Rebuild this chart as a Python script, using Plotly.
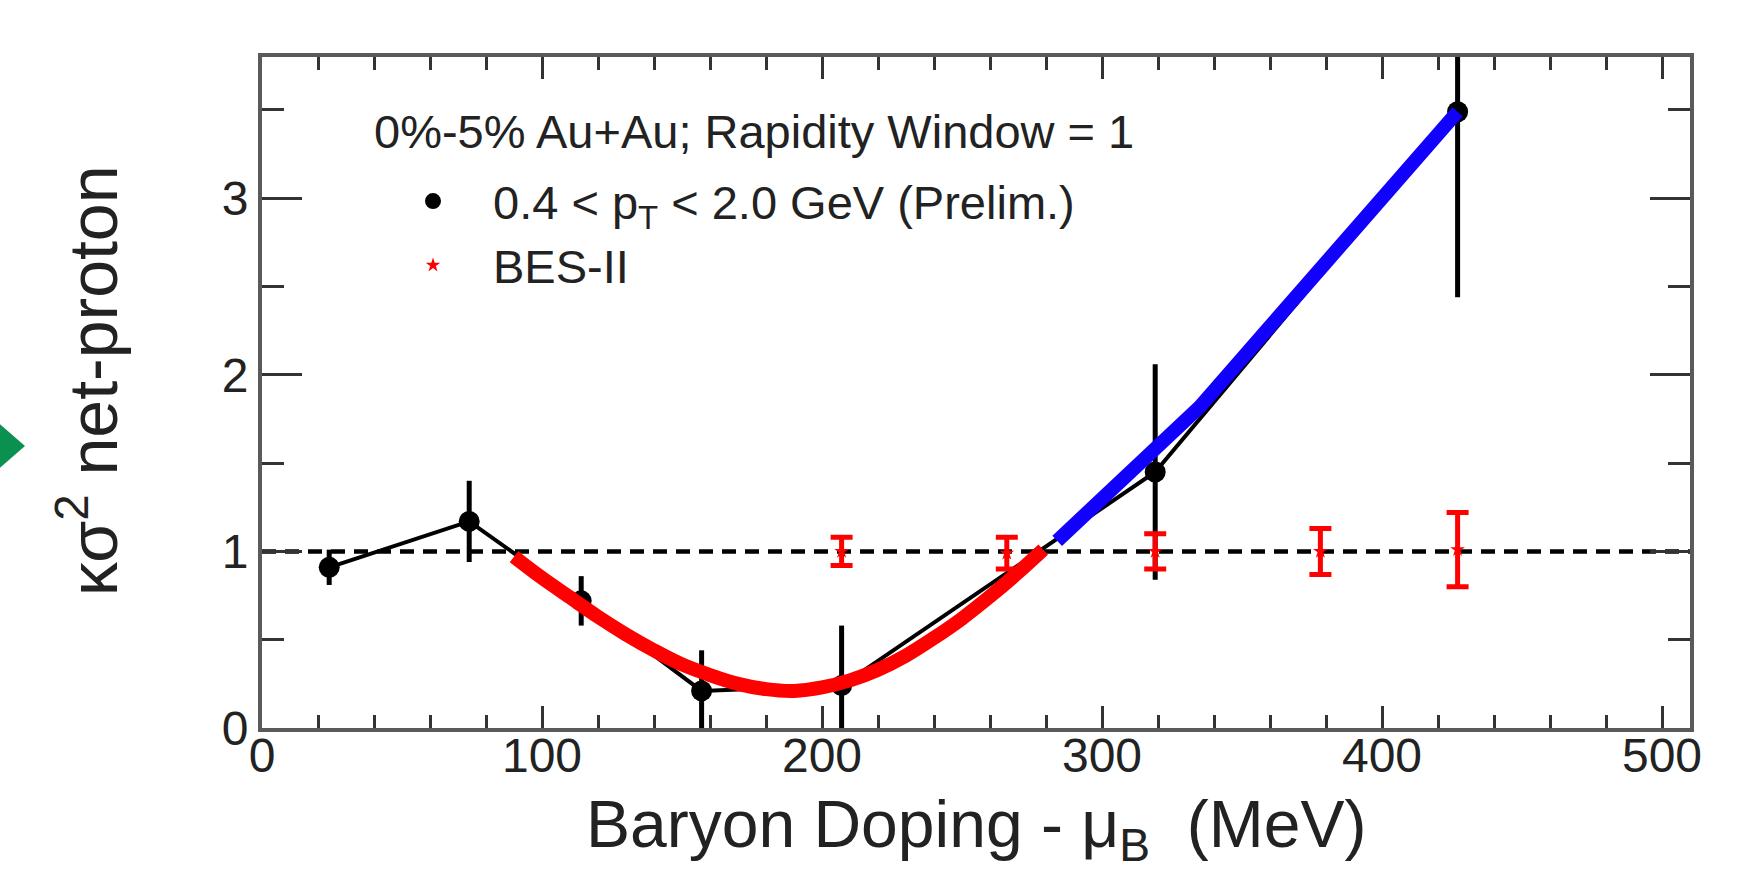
import plotly.graph_objects as go

# ---------------- data ----------------
# STAR preliminary net-proton kappa*sigma^2, 0.4 < pT < 2.0 GeV
black_x = [24, 74, 114, 157, 207, 319, 427]
black_y = [0.91, 1.17, 0.72, 0.21, 0.24, 1.45, 3.49]
black_err = [0.10, 0.23, 0.14, 0.23, 0.34, 0.61, 1.05]

# BES-II projected points
bes_x = [207, 266, 319, 378, 427]
bes_y = [1.00, 0.99, 1.00, 1.00, 1.01]
bes_err = [0.08, 0.09, 0.10, 0.13, 0.21]

# red (dip) curve
red_x = [90, 100, 110, 120, 130, 140, 150, 160, 170, 180, 190, 200,
         210, 220, 230, 240, 250, 260, 270, 279]
red_y = [0.97, 0.85, 0.74, 0.63, 0.53, 0.44, 0.36, 0.30, 0.25, 0.22, 0.21,
         0.23, 0.27, 0.33, 0.41, 0.51, 0.62, 0.745, 0.88, 1.01]

# blue (rise) line
blue_x = [284, 335, 427]
blue_y = [1.06, 1.82, 3.49]

x_range = [0, 510]
y_range = [0, 3.8]

FONT = "Liberation Sans, Arial, Helvetica, sans-serif"
TXT = "#222222"

fig = go.Figure()

# STAR data: connecting line
fig.add_trace(go.Scatter(
    x=black_x, y=black_y, mode="lines", showlegend=False,
    line=dict(color="black", width=4), hoverinfo="skip",
))
# STAR data: points + error bars
fig.add_trace(go.Scatter(
    x=black_x, y=black_y, mode="markers",
    name="0.4 &lt; p<sub>T</sub> &lt; 2.0 GeV (Prelim.)",
    marker=dict(color="black", size=21, symbol="circle"),
    error_y=dict(type="data", array=black_err, visible=True,
                 color="black", thickness=5, width=0),
))

# BES-II
fig.add_trace(go.Scatter(
    x=bes_x, y=bes_y, mode="markers", name="BES-II",
    marker=dict(color="#ff0000", size=11, symbol="star"),
    error_y=dict(type="data", array=bes_err, visible=True,
                 color="#ff0000", thickness=5, width=11),
))

# red curve
fig.add_trace(go.Scatter(
    x=red_x, y=red_y, mode="lines", showlegend=False,
    line=dict(color="#ff0000", width=14, shape="spline"),
    hoverinfo="skip",
))

# blue line
fig.add_trace(go.Scatter(
    x=blue_x, y=blue_y, mode="lines", showlegend=False,
    line=dict(color="#1200ff", width=14),
    hoverinfo="skip",
))

# dashed unity line
fig.add_shape(type="line", xref="paper", x0=0, x1=1, yref="y", y0=1, y1=1,
              line=dict(color="black", width=4.5, dash="14px,9px"),
              layer="below")

# green arrow on the left edge
L, R, T, B = 262, 1690, 57, 728
def px(xp):
    return (xp - L) / (R - L)
def py(yp):
    return (B - yp) / (B - T)
fig.add_shape(type="path", xref="paper", yref="paper",
              path=f"M {px(-5)} {py(420)} L {px(25)} {py(446)} L {px(-5)} {py(472)} Z",
              fillcolor="#0a9150", line=dict(width=0), layer="above")

axis_common = dict(
    showline=True, linecolor="#5a5a5a", linewidth=4, mirror="ticks",
    ticks="inside", tickcolor="#333333", tickwidth=3,
    showgrid=False, zeroline=False,
    tickfont=dict(family=FONT, size=48, color=TXT),
)

fig.update_xaxes(range=x_range, tick0=0, dtick=100, ticklen=22,
                 ticklabelstandoff=-18,
                 minor=dict(dtick=20, ticklen=13, tickwidth=3,
                            tickcolor="#333333", ticks="inside"),
                 **axis_common)
fig.update_yaxes(range=y_range, tick0=0, dtick=1, ticklen=40,
                 minor=dict(dtick=0.5, ticklen=22, tickwidth=3,
                            tickcolor="#333333", ticks="inside"),
                 **axis_common)

# axis titles and header
fig.add_annotation(xref="paper", yref="paper", x=0.5, y=py(785),
                   xanchor="center", yanchor="top", showarrow=False,
                   text="Baryon Doping - μ<sub>B</sub>&nbsp; (MeV)",
                   font=dict(family=FONT, size=66, color=TXT))
fig.add_annotation(xref="paper", yref="paper", x=px(88), y=py(381),
                   xanchor="center", yanchor="middle", showarrow=False,
                   textangle=-90,
                   text="κσ<sup>2</sup> net-proton",
                   font=dict(family=FONT, size=68, color=TXT))
fig.add_annotation(xref="paper", yref="paper", x=px(372), y=py(132),
                   xanchor="left", yanchor="middle", showarrow=False,
                   text="0%-5% Au+Au; Rapidity Window = 1",
                   font=dict(family=FONT, size=47, color=TXT))

fig.update_layout(
    width=1742, height=871, autosize=False,
    margin=dict(l=L, r=1742 - R, t=T, b=871 - B, pad=0),
    paper_bgcolor="white", plot_bgcolor="white",
    showlegend=True,
    legend=dict(x=px(373), y=py(164), xanchor="left", yanchor="top",
                bgcolor="rgba(0,0,0,0)", borderwidth=0,
                itemwidth=110, itemsizing="trace",
                font=dict(family=FONT, size=47, color=TXT)),
)

fig.write_html("out.html")
